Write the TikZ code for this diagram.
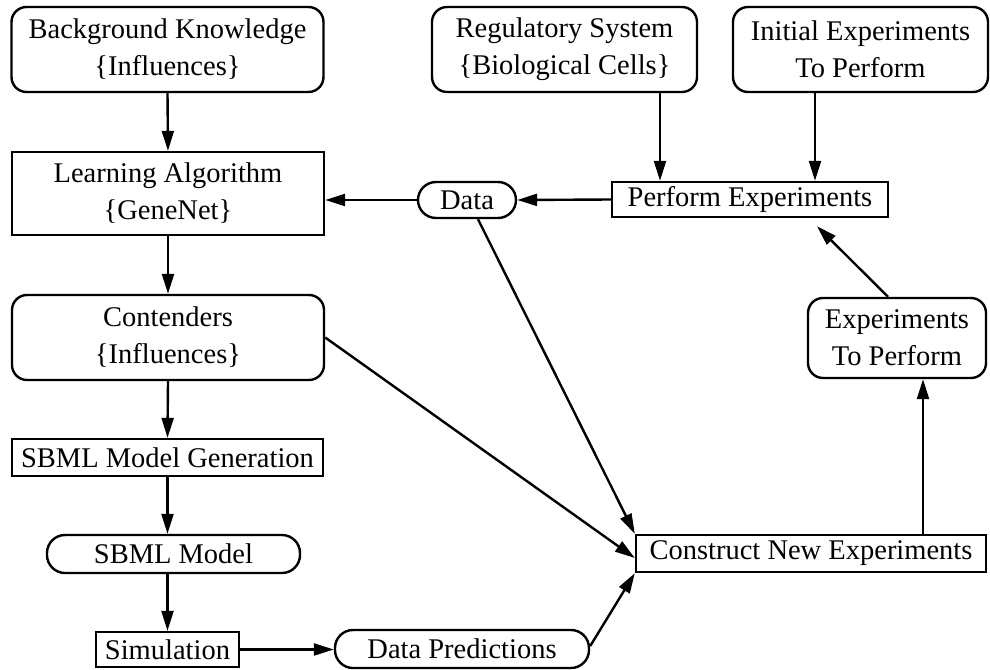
\documentclass[tikz,border=0pt]{standalone}
\usepackage{fontspec}
\setmainfont{Liberation Serif}
\usetikzlibrary{arrows.meta}
\begin{document}
\begin{tikzpicture}[x=1pt,y=-1pt,
  every node/.style={font=\fontsize{28.5}{37}\selectfont, align=center, inner sep=0pt, line width=2.4pt},
  roundbox/.style={draw, rounded corners=15pt},
  pillbox/.style={draw, rounded corners=18pt},
  plainbox/.style={draw},
  arr/.style={line width=2.4pt, -{Triangle[length=20pt,width=12pt]}},
]
\useasboundingbox (0,0) rectangle (990,669);

% top row
\node[roundbox, minimum width=312pt, minimum height=85pt] (bk) at (167.5,49.5) {Background Knowledge\\\{Influences\}};
\node[roundbox, minimum width=265pt, minimum height=85pt] (rs) at (564.5,49.5) {Regulatory System\\\{Biological Cells\}};
\node[roundbox, minimum width=255pt, minimum height=85pt] (ie) at (860.5,49.5) {Initial Experiments\\To Perform};

% second row
\node[plainbox, minimum width=312pt, minimum height=83pt] (la) at (168,193.5) {Learning Algorithm\\\{GeneNet\}};
\node[pillbox, minimum width=98pt, minimum height=36pt] (data) at (467,200) {Data};
\node[plainbox, minimum width=276pt, minimum height=35pt] (pe) at (750,199.5) {Perform Experiments};

% middle
\node[roundbox, minimum width=312pt, minimum height=85pt] (ct) at (168,337.5) {Contenders\\\{Influences\}};
\node[roundbox, minimum width=178pt, minimum height=80pt] (etp) at (897,338) {Experiments\\To Perform};

% lower left chain
\node[plainbox, minimum width=311pt, minimum height=37pt] (smg) at (167.5,457.5) {SBML Model Generation};
\node[pillbox, minimum width=253pt, minimum height=38pt] (sm) at (173.5,554) {SBML Model};
\node[plainbox, minimum width=143pt, minimum height=35pt] (sim) at (167.5,649.5) {Simulation};
\node[pillbox, minimum width=254pt, minimum height=38pt] (dp) at (462,649) {Data Predictions};
\node[plainbox, minimum width=350pt, minimum height=37pt] (cne) at (811,553.5) {Construct New Experiments};

% connectors
\draw[arr] (bk.south) -- (la.north);
\draw[arr] (la.south) -- (ct.north);
\draw[arr] (ct.south) -- (smg.north);
\draw[arr] (smg.south) -- (smg.south |- sm.north);
\draw[arr] (smg.south |- sm.south) -- (smg.south |- sim.north);
\draw[arr] (sim.east) -- (sim.east -| dp.west);
\draw[arr] ([yshift=3pt]dp.east) -- (cne.south west);
\draw[arr] (ct.east) -- ([yshift=-4.5pt]cne.west);
\draw[arr] ([xshift=11pt]data.south) -- (cne.north west);
\draw[arr] ([xshift=95.5pt]rs.south) -- ([xshift=95.5pt]rs.south |- pe.north);
\draw[arr] ([xshift=-45.5pt]ie.south) -- ([xshift=-45.5pt]ie.south |- pe.north);
\draw[arr] (pe.west) -- (data.east);
\draw[arr] (data.west) -- (data.west -| la.east);
\draw[arr] ([xshift=-9pt]etp.north) -- ([xshift=67pt,yshift=-8pt]pe.south);
\draw[arr] ([xshift=112pt]cne.north) -- ([xshift=112pt]cne.north |- etp.south);
\end{tikzpicture}
\end{document}
